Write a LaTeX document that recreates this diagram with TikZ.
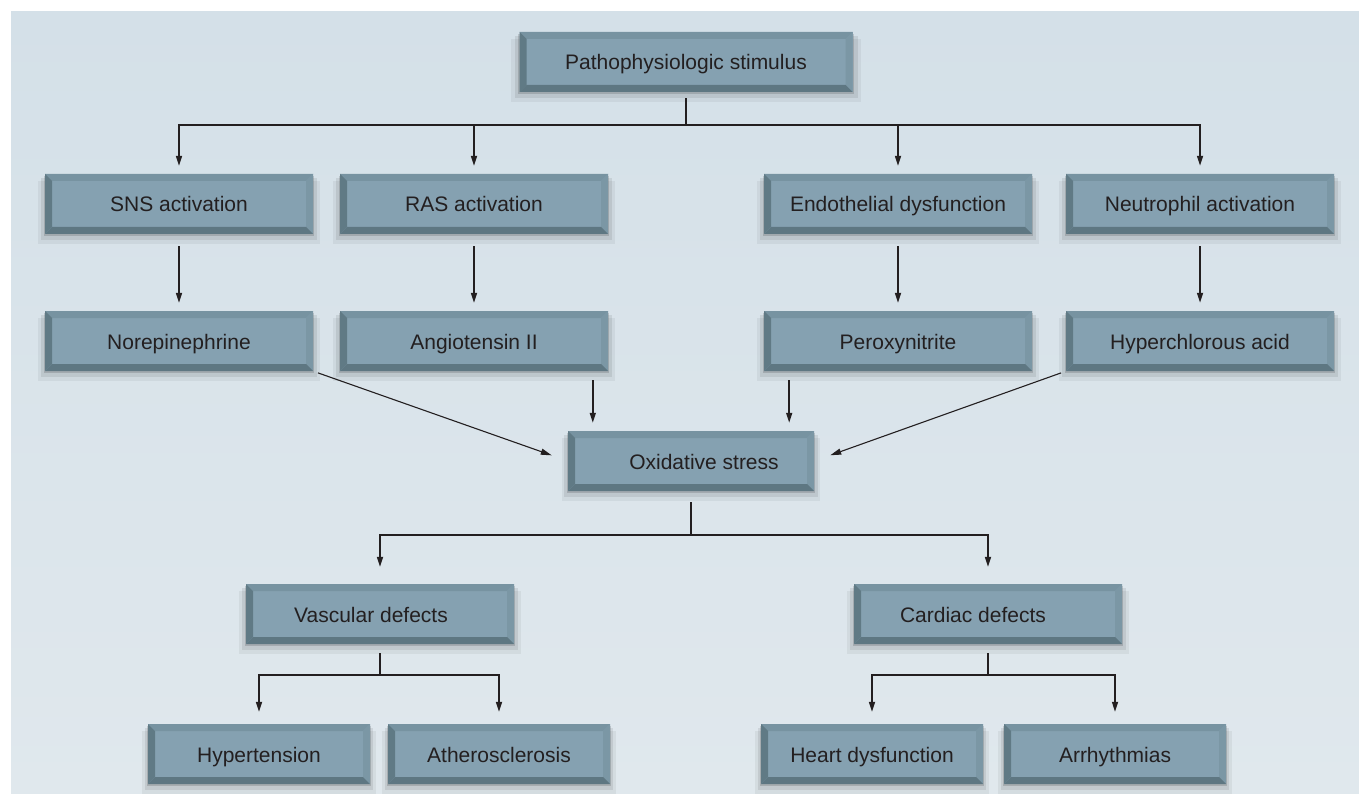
\documentclass[tikz,border=0pt]{standalone}
\usepackage{fontspec}
\setmainfont{Liberation Sans}
\usepackage{tikz}
\usetikzlibrary{arrows.meta,shadows}

\definecolor{bgtop}{HTML}{D4E0E8}
\definecolor{bgmid}{HTML}{F0F4F6}
\definecolor{bgbot}{HTML}{E0E8ED}
\definecolor{facecol}{HTML}{85A1B1}
\definecolor{bvtop}{HTML}{7793A1}
\definecolor{bvright}{HTML}{7B97A5}
\definecolor{bvbot}{HTML}{5E7782}
\definecolor{bvleft}{HTML}{607A85}
\definecolor{inkcol}{HTML}{231F20}

\begin{document}
\begin{tikzpicture}[x=1pt,y=-1pt,
    box/.style={rectangle,minimum height=60pt,inner sep=0pt,fill=facecol,text=inkcol,
                font=\fontsize{21}{25}\selectfont,text height=16pt,text depth=0pt,
                drop shadow={shadow xshift=0pt,shadow yshift=-8pt,shadow scale=1.05,opacity=.05,fill=black},
                drop shadow={shadow xshift=0pt,shadow yshift=-5pt,shadow scale=1.03,opacity=.08,fill=black},
                drop shadow={shadow xshift=0pt,shadow yshift=-2pt,shadow scale=1.01,opacity=.14,fill=black},
                path picture={
                  \coordinate (nw) at (path picture bounding box.north west);
                  \coordinate (ne) at (path picture bounding box.north east);
                  \coordinate (sw) at (path picture bounding box.south west);
                  \coordinate (se) at (path picture bounding box.south east);
                  \fill[bvtop] (nw) -- (ne) -- ([shift={(-7pt,-7pt)}]ne) -- ([shift={(7pt,-7pt)}]nw) -- cycle;
                  \fill[bvright] (ne) -- (se) -- ([shift={(-7pt,7pt)}]se) -- ([shift={(-7pt,-7pt)}]ne) -- cycle;
                  \fill[bvbot] (se) -- (sw) -- ([shift={(7pt,7pt)}]sw) -- ([shift={(-7pt,7pt)}]se) -- cycle;
                  \fill[bvleft] (sw) -- (nw) -- ([shift={(7pt,-7pt)}]nw) -- ([shift={(7pt,7pt)}]sw) -- cycle;
                }},
    wide/.style={box,minimum width=268pt},
    small/.style={box,minimum width=222pt},
    link/.style={line width=1.6pt,draw=inkcol},
    arr/.style={link,-{Triangle[length=10pt,width=6pt]}},
    slant/.style={line width=1.1pt,draw=inkcol,-{Triangle[length=11pt,width=6pt]}}
]
\useasboundingbox (0,0) rectangle (1359,794);
\fill[white] (0,0) rectangle (1359,794);
\fill[top color=bgtop,middle color=bgmid,bottom color=bgbot] (11,12) rectangle (1359,794);

% top
\node[box,minimum width=333pt] (stim) at (686,62) {Pathophysiologic stimulus};

% first row
\node[wide] (sns)  at (179,204)  {SNS activation};
\node[wide] (ras)  at (474,204)  {RAS activation};
\node[wide] (endo) at (898,204)  {Endothelial dysfunction};
\node[wide] (neut) at (1200,204) {Neutrophil activation};

% second row
\node[wide] (nore)  at (179,341)  {Norepinephrine};
\node[wide] (ang)   at (474,341)  {Angiotensin II};
\node[wide] (perox) at (898,341)  {Peroxynitrite};
\node[wide] (hocl)  at (1200,341) {Hyperchlorous acid};

\node[box,minimum width=246pt] (ox) at (691,461) {\hspace*{26pt}Oxidative stress};

\node[wide] (vasc) at (380,614) {Vascular defects\hspace*{18pt}};
\node[wide] (card) at (988,614) {Cardiac defects\hspace*{30pt}};

% bottom row
\node[small] (hyp)   at (259,754)  {Hypertension};
\node[small] (ather) at (499,754)  {Atherosclerosis};
\node[small] (heart) at (872,754)  {Heart dysfunction};
\node[small] (arrh)  at (1115,754) {Arrhythmias};

% connectors
\coordinate (split1) at (stim.south |- 0,125);
\draw[link,shorten <=6pt] (stim.south) -- (split1);
\foreach \n in {sns,ras,endo,neut}
  \draw[arr,shorten >=8pt] (split1) -| (\n.north);

\foreach \a/\b in {sns/nore,ras/ang,endo/perox,neut/hocl}
  \draw[arr,shorten <=12pt,shorten >=8pt] (\a.south) -- (\b.north);

\coordinate (oxl) at ([xshift=25pt]ox.north west);
\coordinate (oxr) at ([xshift=-25pt]ox.north east);
\draw[arr,shorten <=9pt,shorten >=8pt] (ang.south -| oxl) -- (oxl);
\draw[arr,shorten <=9pt,shorten >=8pt] (perox.south -| oxr) -- (oxr);
\draw[slant,shorten <=5pt,shorten >=17pt] (nore.south east) -- (ox.west);
\draw[slant,shorten <=5pt,shorten >=17pt] (hocl.south west) -- (ox.east);

\coordinate (split2) at (ox.south |- 0,535);
\draw[link,shorten <=11pt] (ox.south) -- (split2);
\draw[arr,shorten >=17pt] (split2) -| (vasc.north);
\draw[arr,shorten >=17pt] (split2) -| (card.north);

\coordinate (split3) at (vasc.south |- 0,675);
\draw[link,shorten <=9pt] (vasc.south) -- (split3);
\foreach \n in {hyp,ather}
  \draw[arr,shorten >=12pt] (split3) -| (\n.north);

\coordinate (split4) at (card.south |- 0,675);
\draw[link,shorten <=9pt] (card.south) -- (split4);
\foreach \n in {heart,arrh}
  \draw[arr,shorten >=12pt] (split4) -| (\n.north);
\end{tikzpicture}
\end{document}
